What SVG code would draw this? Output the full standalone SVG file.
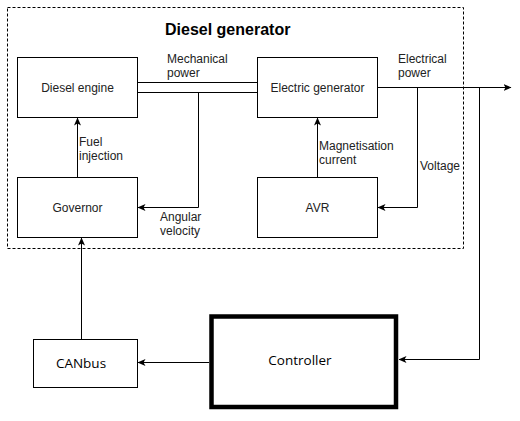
<svg xmlns="http://www.w3.org/2000/svg" width="520" height="421" viewBox="0 0 520 421">
<style>
.box{fill:#fff;stroke:#000;stroke-width:1}
.lbl{font-family:"Liberation Sans",Arial,sans-serif;font-size:12px;fill:#222}
.nt{font-family:"Liberation Sans",Arial,sans-serif;font-size:12px;fill:#222;text-anchor:middle}
.nt2{font-family:"Open Sans","Noto Sans",sans-serif;font-size:13.5px;fill:#000;text-anchor:middle}
.ln{fill:none;stroke:#000;stroke-width:1}
</style>
<defs>
<marker id="ah" viewBox="0 0 8 8" refX="7.5" refY="4" markerWidth="8" markerHeight="8" markerUnits="userSpaceOnUse" orient="auto">
<path d="M0,0.5 L8,4 L0,7.5 L2,4 Z" fill="#000"/>
</marker>
</defs>
<rect x="7.5" y="7.5" width="456" height="241" fill="none" stroke="#000" stroke-width="1" stroke-dasharray="3,2"/>
<text x="165" y="35" font-family="Liberation Sans,Arial,sans-serif" font-size="16" font-weight="bold">Diesel generator</text>
<g id="connectors">
<path class="ln" d="M137,82.5 H257 M137,92.5 H257"/>
<path class="ln" d="M198.5,92.5 V207.5 H138" marker-end="url(#ah)"/>
<path class="ln" d="M77.5,177 V118" marker-end="url(#ah)"/>
<path class="ln" d="M317.5,177 V118" marker-end="url(#ah)"/>
<path class="ln" d="M377,87.5 H511" marker-end="url(#ah)"/>
<path class="ln" d="M417.5,87.5 V207.5 H378" marker-end="url(#ah)"/>
<path class="ln" d="M479.5,87.5 V359.5 H399" marker-end="url(#ah)"/>
<path class="ln" d="M209,362.5 H138" marker-end="url(#ah)"/>
<path class="ln" d="M81.5,339 V238" marker-end="url(#ah)"/>
<text class="lbl" x="167" y="63">Mechanical</text>
<text class="lbl" x="167" y="77">power</text>
<text class="lbl" x="398" y="63">Electrical</text>
<text class="lbl" x="398" y="77">power</text>
<text class="lbl" x="79" y="146">Fuel</text>
<text class="lbl" x="79" y="160">injection</text>
<text class="lbl" x="160" y="221">Angular</text>
<text class="lbl" x="160" y="235">velocity</text>
<text class="lbl" x="319" y="150">Magnetisation</text>
<text class="lbl" x="319" y="164">current</text>
<text class="lbl" x="420" y="170">Voltage</text>
</g>
<g id="diesel-engine">
<rect class="box" x="17.5" y="57.5" width="120" height="60"/>
<text class="nt" x="77.5" y="92">Diesel engine</text>
</g>
<g id="electric-generator">
<rect class="box" x="257.5" y="57.5" width="120" height="60"/>
<text class="nt" x="317.5" y="92">Electric generator</text>
</g>
<g id="governor">
<rect class="box" x="17.5" y="177.5" width="120" height="60"/>
<text class="nt" x="77.5" y="212">Governor</text>
</g>
<g id="avr">
<rect class="box" x="257.5" y="177.5" width="120" height="60"/>
<text class="nt" x="317.5" y="212">AVR</text>
</g>
<g id="canbus">
<rect class="box" x="33.5" y="339.5" width="104" height="48"/>
<text class="nt2" x="81" y="368">CANbus</text>
</g>
<g id="controller">
<rect x="211.5" y="316.5" width="184.5" height="90.5" fill="#fff" stroke="#000" stroke-width="4.5"/>
<text class="nt2" x="300" y="365">Controller</text>
</g>
</svg>
